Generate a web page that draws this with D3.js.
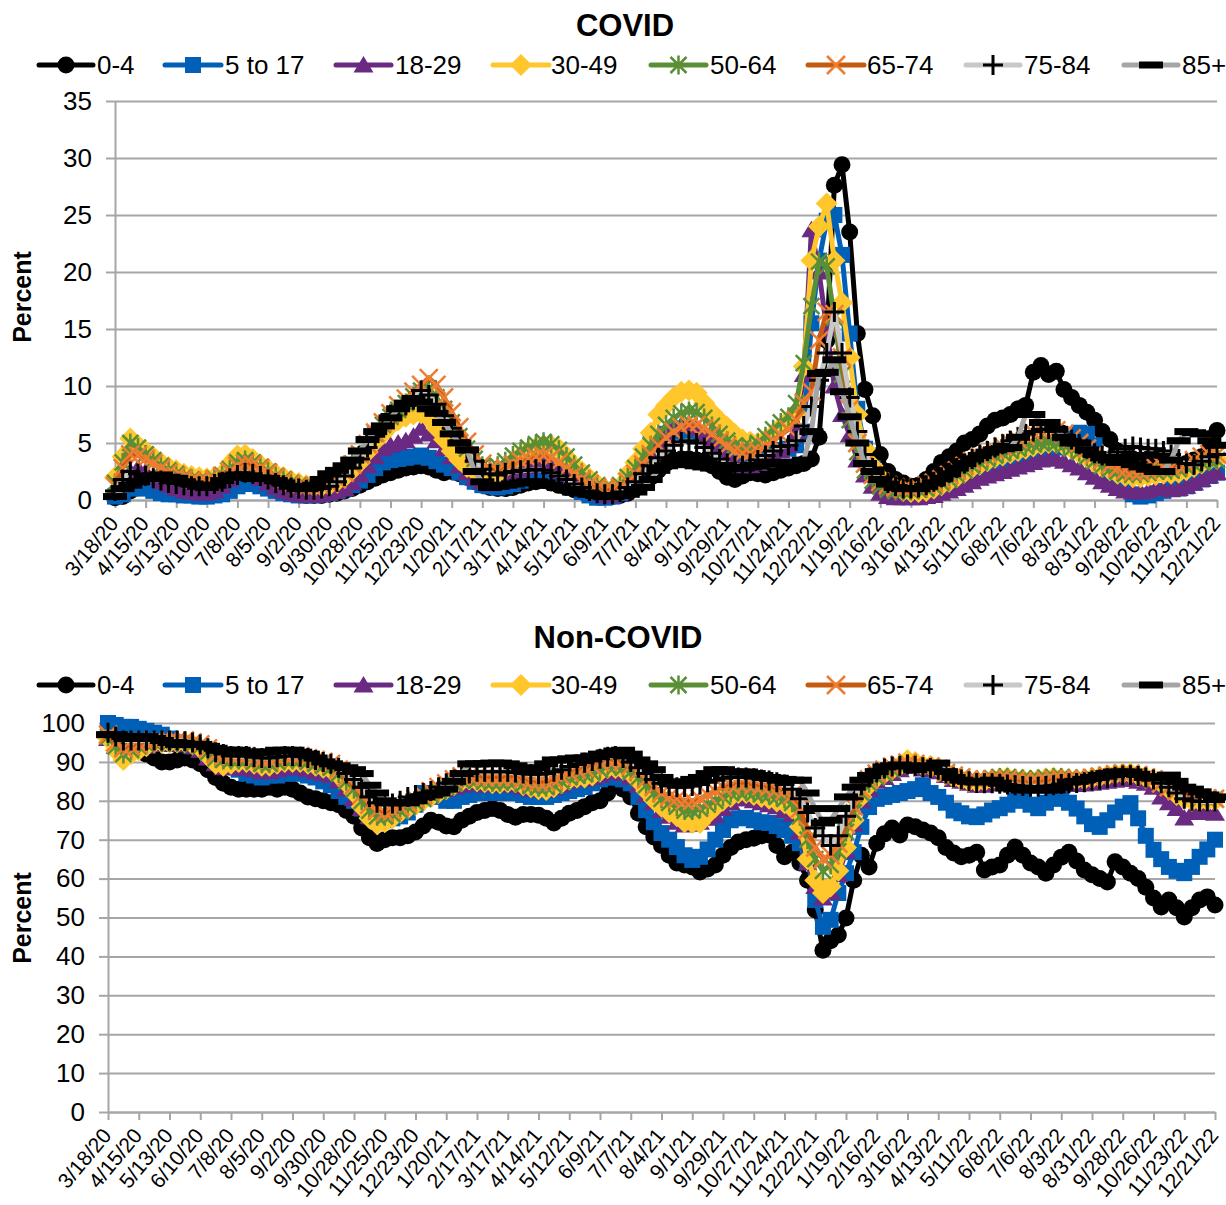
<!DOCTYPE html>
<html><head><meta charset="utf-8">
<script src="https://cdn.jsdelivr.net/npm/d3@7"></script>
<style>body{margin:0;background:#fff} svg text{font-family:"Liberation Sans",Arial,sans-serif;fill:#000}</style>
</head><body>
<svg id="chart" width="1226" height="1205"></svg>
<script>
// ---------------- DATA ----------------
const seriesNames = ["0-4","5 to 17","18-29","30-49","50-64","65-74","75-84","85+"];
const tickLabels = ["3/18/20","4/15/20","5/13/20","6/10/20","7/8/20","8/5/20","9/2/20","9/30/20","10/28/20","11/25/20","12/23/20","1/20/21","2/17/21","3/17/21","4/14/21","5/12/21","6/9/21","7/7/21","8/4/21","9/1/21","9/29/21","10/27/21","11/24/21","12/22/21","1/19/22","2/16/22","3/16/22","4/13/22","5/11/22","6/8/22","7/6/22","8/3/22","8/31/22","9/28/22","10/26/22","11/23/22","12/21/22"];
const covidTicks = [0,5,10,15,20,25,30,35];
const nonCovidTicks = [0,10,20,30,40,50,60,70,80,90,100];

// COVID (%), weekly
const covid0to4 = [0.2,0.3,0.8,1.2,1.3,1.2,0.9,0.7,0.6,0.5,0.5,0.4,0.5,0.6,0.8,
1.0,1.3,1.5,1.5,1.3,1.1,0.9,0.8,0.6,0.5,0.4,0.4,0.4,0.5,0.6,
0.8,1.0,1.3,1.6,1.9,2.2,2.4,2.6,2.8,2.9,3.0,2.9,2.6,2.4,2.5,2.3,2.0,1.6,1.3,1.1,1.0,
1.0,1.1,1.3,1.5,1.6,1.7,1.5,1.3,1.1,0.9,0.7,0.5,0.4,0.3,0.3,0.4,
0.6,1.0,1.5,2.0,2.6,3.2,3.5,3.6,3.6,3.5,3.4,3.0,2.5,2.0,1.8,2.1,2.4,2.3,2.2,2.4,2.6,
2.8,3.0,3.2,3.6,5.5,14.0,27.6,29.4,23.5,14.6,9.7,7.4,4.0,2.5,1.8,1.5,1.2,
1.3,1.8,2.5,3.3,3.8,4.3,5.0,5.3,5.8,6.5,7.0,7.2,7.5,8.0,8.3,11.2,11.8,11.0,11.3,9.7,9.0,8.3,7.7,7.0,6.0,5.3,4.3,3.8,3.6,3.5,3.6,3.8,3.5,3.3,3.0,3.2,3.5,3.8,4.5,6.1];
const covid5to17 = [0.3,0.5,1.0,1.2,1.0,0.8,0.6,0.5,0.5,0.4,0.4,0.3,0.3,0.4,0.5,
0.8,1.2,1.5,1.4,1.2,1.0,0.8,0.6,0.5,0.4,0.4,0.4,0.5,0.6,0.8,
1.0,1.3,1.7,2.2,2.8,3.3,3.5,3.6,3.7,3.8,3.9,3.7,3.4,3.1,2.8,2.4,2.0,1.6,1.3,1.2,1.1,
1.2,1.4,1.7,2.0,2.2,2.3,2.1,1.8,1.5,1.1,0.7,0.4,0.2,0.2,0.3,0.6,
1.5,2.5,4.0,5.0,5.5,5.8,6.0,6.0,5.9,5.8,5.3,4.8,4.2,3.8,3.4,3.2,3.3,3.5,3.8,4.2,4.4,
4.5,4.8,6.0,15.5,21.0,24.5,25.0,21.5,14.6,8.0,4.5,2.8,1.6,1.0,0.6,0.4,0.3,
0.3,0.4,0.5,0.7,0.9,1.1,1.4,1.7,2.0,2.2,2.4,2.6,2.8,3.0,3.3,3.6,3.9,4.2,4.6,5.0,5.4,5.9,5.8,4.8,3.5,2.3,1.5,0.9,0.5,0.3,0.4,0.6,0.8,1.0,1.0,1.2,1.5,1.8,2.1,2.4];
const covid18to29 = [0.8,1.5,2.5,2.8,2.5,2.0,1.6,1.3,1.0,0.8,0.7,0.6,0.6,0.8,1.2,
1.8,2.3,2.5,2.3,1.9,1.5,1.1,0.8,0.6,0.5,0.4,0.4,0.5,0.6,0.8,
1.0,1.5,2.2,3.0,3.8,4.5,4.8,5.0,5.2,5.6,6.3,5.8,5.2,4.5,3.8,3.0,2.4,1.9,1.6,1.4,1.5,
1.8,2.2,2.6,2.9,3.1,3.2,2.9,2.5,2.1,1.7,1.3,0.9,0.6,0.4,0.4,0.7,
1.2,2.0,3.0,4.0,5.0,5.8,6.3,6.6,6.6,6.3,5.8,5.0,4.3,3.7,3.3,3.0,3.0,3.2,3.5,3.9,4.3,
4.8,6.0,11.0,23.7,20.0,15.0,10.0,7.5,5.7,3.5,2.2,1.2,0.6,0.3,0.2,0.2,0.2,
0.2,0.3,0.4,0.6,0.8,1.0,1.3,1.6,1.9,2.1,2.3,2.5,2.7,2.9,3.1,3.3,3.5,3.6,3.6,3.4,3.1,2.8,2.4,2.0,1.6,1.3,1.0,0.8,0.7,0.7,0.8,1.0,1.0,0.9,1.0,1.2,1.5,1.8,2.1,2.4];
const covid30to49 = [2.0,3.8,5.4,4.8,4.3,3.8,3.3,2.9,2.6,2.3,2.1,2.0,1.9,2.0,2.3,
3.2,3.9,4.0,3.6,3.1,2.7,2.3,2.0,1.7,1.5,1.3,1.2,1.2,1.3,1.6,
2.0,2.6,3.3,4.2,5.1,5.8,6.5,7.0,7.3,7.5,7.6,7.2,6.3,5.3,4.3,3.5,2.9,2.5,2.2,2.1,2.3,
2.8,3.4,3.9,4.3,4.6,4.8,4.8,4.5,3.8,3.0,2.5,1.9,1.4,1.0,0.9,1.2,
2.3,3.3,4.5,5.9,7.5,8.3,9.0,9.5,9.6,9.4,8.5,7.7,7.0,6.4,5.8,5.3,5.1,5.0,5.3,5.8,6.4,
7.0,7.6,11.7,21.0,24.0,26.0,21.0,17.3,12.5,7.5,4.5,3.0,2.0,1.3,1.0,0.8,0.7,
0.7,0.8,1.0,1.3,1.6,2.0,2.4,2.8,3.1,3.4,3.7,3.9,4.1,4.3,4.5,4.7,4.9,5.0,5.0,4.8,4.5,4.1,3.7,3.3,2.9,2.6,2.3,2.1,2.0,2.0,2.1,2.2,2.3,2.3,2.4,2.6,2.9,3.2,3.5,3.6];
const covid50to64 = [1.5,3.3,5.0,4.6,4.0,3.5,3.0,2.6,2.3,2.0,1.8,1.7,1.7,1.9,2.2,
2.7,3.3,3.5,3.3,2.9,2.5,2.1,1.8,1.5,1.3,1.2,1.2,1.3,1.5,1.9,
2.5,3.2,4.0,4.9,5.8,6.6,7.3,7.9,8.5,9.1,9.6,9.8,9.0,8.0,6.8,5.6,4.5,3.6,3.0,2.8,3.0,
3.4,3.9,4.3,4.6,4.9,5.1,4.9,4.4,3.8,3.1,2.4,1.8,1.3,1.0,1.0,1.3,
2.0,2.8,3.8,4.8,5.8,6.6,7.2,7.6,7.8,7.7,7.2,6.5,5.8,5.2,4.8,4.6,4.7,5.0,5.6,6.2,6.8,
7.3,8.5,12.0,17.0,20.9,20.5,16.0,11.0,7.0,4.2,2.6,1.7,1.2,0.9,0.8,0.8,0.8,
0.9,1.0,1.2,1.5,1.8,2.2,2.6,3.0,3.3,3.6,3.9,4.1,4.3,4.5,4.7,4.9,5.0,5.1,5.0,4.8,4.5,4.2,3.8,3.4,3.0,2.7,2.5,2.3,2.3,2.3,2.4,2.5,2.6,2.6,2.7,2.9,3.1,3.3,3.5,3.5];
const covid65to74 = [1.2,2.8,4.0,3.9,3.6,3.2,2.8,2.4,2.1,1.9,1.7,1.6,1.6,1.8,2.1,
2.5,3.0,3.2,3.1,2.8,2.4,2.0,1.7,1.4,1.2,1.1,1.1,1.2,1.4,1.8,
2.4,3.1,4.0,4.9,5.9,6.8,7.6,8.3,8.9,9.5,10.1,10.7,10.1,9.0,7.7,6.4,5.1,4.0,3.2,2.7,2.6,
2.8,3.1,3.4,3.6,3.8,3.9,3.7,3.3,2.8,2.3,1.8,1.4,1.1,0.9,0.9,1.1,
1.6,2.3,3.1,4.0,4.8,5.5,6.0,6.4,6.6,6.6,6.3,5.8,5.2,4.7,4.3,4.1,4.1,4.3,4.7,5.2,5.7,
6.2,7.0,8.5,9.5,14.0,16.5,16.3,12.5,8.0,5.0,3.2,2.2,1.6,1.3,1.1,1.0,1.0,
1.1,1.3,1.5,1.8,2.2,2.6,3.0,3.4,3.8,4.1,4.4,4.7,5.0,5.3,5.6,5.9,6.1,6.2,6.1,5.8,5.4,5.0,4.5,4.0,3.5,3.1,2.8,2.6,2.5,2.5,2.6,2.8,2.9,2.9,3.0,3.2,3.5,3.8,4.0,4.0];
const covid75to84 = [0.8,1.8,2.5,2.3,2.1,1.9,1.7,1.5,1.4,1.3,1.2,1.2,1.2,1.4,1.6,
1.9,2.2,2.4,2.3,2.1,1.8,1.5,1.3,1.1,1.0,0.9,0.9,1.0,1.2,1.6,
2.1,2.8,3.6,4.6,5.6,6.6,7.5,7.9,8.3,8.8,9.6,9.2,8.4,7.4,6.3,5.2,4.2,3.4,2.7,2.3,2.2,
2.4,2.5,2.6,2.6,2.7,2.6,2.4,2.1,1.8,1.4,1.1,0.8,0.6,0.5,0.5,0.7,
1.1,1.6,2.3,3.0,3.7,4.3,4.8,5.1,5.2,5.0,4.6,4.1,3.6,3.2,3.0,3.0,3.2,3.5,3.9,4.3,4.7,
4.8,5.2,6.5,8.2,10.5,12.9,16.5,12.9,9.0,6.0,4.0,2.8,2.0,1.5,1.2,1.0,1.0,
1.1,1.3,1.6,2.0,2.4,2.8,3.2,3.6,4.0,4.3,4.6,4.9,5.2,5.5,5.8,6.0,6.2,6.2,6.0,5.7,5.3,4.9,4.5,4.1,3.9,3.9,4.2,4.5,4.7,4.6,4.5,4.5,4.3,4.0,3.6,3.2,3.1,3.4,3.8,4.0];
const covid85plus = [0.3,1.0,1.3,1.6,1.9,2.1,2.2,2.0,1.9,1.6,1.4,1.2,1.1,1.3,1.7,
2.1,2.2,2.0,1.9,1.9,1.9,1.7,1.5,1.2,1.0,1.0,1.3,1.8,2.3,2.6,
3.0,3.5,4.3,5.3,6.0,6.5,7.2,8.0,8.5,8.9,8.6,8.0,7.6,6.8,5.8,5.0,4.4,2.5,1.6,1.1,1.2,
1.3,1.4,1.5,1.6,1.6,1.5,1.3,1.1,0.9,0.7,0.6,0.5,0.4,0.3,0.3,0.4,
0.5,0.7,1.1,1.8,2.6,3.0,3.2,3.2,3.1,3.0,2.9,2.8,2.8,2.8,2.8,2.8,2.9,3.0,3.2,3.3,3.3,
3.2,3.3,3.5,6.0,11.1,11.2,12.3,9.5,7.3,5.0,3.2,2.5,1.8,1.4,1.1,1.0,1.0,
1.0,1.2,1.5,1.9,2.3,2.8,3.2,3.6,3.9,4.2,4.4,4.5,4.6,5.5,7.5,7.5,6.8,6.8,6.2,5.5,5.0,5.0,4.4,4.0,3.7,3.5,3.3,3.3,3.1,2.9,2.7,2.5,2.5,3.5,5.2,6.0,5.9,5.8,5.2,4.8];

// Non-COVID (%), weekly
const non0to4 = [97,96,95,94,93,92,91,90,90,90.5, 91,90.5,89.5,88,86,84.5,83.5,83,83,83,
83,83.5,83,83.5,83,82,81,80.5,80,79.5, 79,77.5,76,73,70.5,69,70,70.5,70.5,71,
72,73.5,75,74.5,73.5,73.3,75,76,77,77.5, 78,77.5,76.5,75.8,76.5,76.5,76.3,75.5,74.3,75.5,
76.8,77.5,78.5,79.5,80,82,84,83,81,76.8, 73.3,70.7,68.5,66,64,63.5,63,61.7,62.5,63.5,
66,68,69.4,70,70.4,71,71.2,68.5,65.6,66.8, 64,59.6,51.9,41.6,44,45.5,49.9,59.6,66,63,
69.1,71.5,73,71.2,73.8,73.3,72.5,71.7,70.5,68, 66.6,65.6,66,66.8,62.2,63,63.5,66,68.1,66,
64,63,61.4,63.5,65.5,66.8,64.5,62.2,61,60, 59.1,64.3,63,61.4,60,57.8,55,52.7,54.5,52.5,
50.1,52.5,54.5,55.3,53.2];
const non5to17 = [100,99.5,99,99,98.5,98,97.5,97,96,95, 94.5,94,93.5,92,91,90,89,88,87,86.5,
86,86.5,86.5,87,87,87,86.5,86,85,84, 82.5,81,80,78,76,75,75,75.5,76,77,
79,82,82,81,80,80,81,81.5,82,82, 82,82,82,82,81.5,81,81,81,81.5,82,
82.5,83,83.5,84.5,85.5,86,86,85.5,84.5,81, 77.6,74.5,71.7,70,68.1,66,64.8,65.6,67.5,70,
72.5,75,75.5,75.6,75,74.5,74.3,73.5,72.5,71, 69.1,64.8,54.5,47.6,49.4,56.3,61.4,66.8,73.3,78.4,
80.5,81,81.5,82,82.5,83,84,82,81,79.5, 77.5,76.8,76,75.8,76.5,77.5,78.1,79,80,80.2,
79,78.1,79.5,80.5,81,79.5,78,76,74,73.3, 75,77,78.5,79.4,75.5,71,67.4,65,63,62,
61.4,63,65.6,67.5,70];
const non18to29 = [96,94,92,93,93.5,94,94.5,94.5,94.5,94.5, 94.5,94,93,91,89.5,88.5,88.5,88.5,88.3,88,
87.5,87.5,88,88.5,88.5,88.5,88,87.5,87,86.5, 85,83,80.5,78,76,75,75.5,76.5,77.5,78.5,
79.5,80.5,81.5,82.5,83,83.5,84,84.5,84.3,84, 84,84,84.2,84,83.5,83,82.8,82.8,83.3,84,
85,85.5,85.5,86,86.5,87.3,87.5,87,86,84, 81.5,79.5,77.5,76,74.5,73.8,74,74.5,75.5,76.3,
78,79.5,80.5,80.5,80,79.5,79,78.5,77.5,76.5, 72,64,58,55,56.5,61,67,74,80,83,
85,86,87,88,89,88.8,88.2,88,87.5,86.5, 85.5,85,84.5,84,84,84.3,84.5,84.5,84.3,84.2,
84,84,84.3,84.5,84.5,84.3,84.2,84.3,84.5,84.8, 85,85.3,85.5,85.5,85,84.5,83.5,81,79.5,78,
75.6,77,77.5,77,76.8];
const non30to49 = [96,93,90.5,92,93,94,95,95,95,95, 95,94.5,93.5,91.5,89.5,89,89.5,90,90,89.5,
89,89,89.5,90,90,90,89.5,89,88.5,88, 86.5,84.5,82,78.5,75.5,74,74.5,75.5,77,78,
79,80,81,82,83,84,85,85.5,85,84.8, 84.5,84.5,84.8,84.8,84,83.5,83,82.8,83.5,84.5,
85.5,86,86,86.5,87.5,88.4,88.4,88,87,85, 82.5,80.2,78.5,77,76,74.5,74.3,74.3,76.5,78.4,
80,81,82,82,81.5,81,80.5,79.8,79.4,78, 73.3,65,59.6,56.3,58,62,68,75,81,84,
86,87,88,89,90.5,90,89,89,88.5,87, 86,85.5,85,84.8,85,85.5,85.8,86,85.5,85.5,
85.3,85.5,85.8,86,85.8,85.5,85.5,85.5,85.8,86.2, 86.5,86.8,87,87,86.5,86,85.5,84.5,83,81.5,
80.5,80,80,80,80];
const non50to64 = [96.5,94,92,93,94,94.5,95,95,95,95, 95,94.5,94,92.5,91,90.5,90.5,90.5,90.5,90,
89.5,89.5,90,90.5,90.5,90.5,90,89.5,89,88.5, 87,85,83,80,77.5,76,76,76.5,77.5,78.5,
79.5,80.5,81.5,82.5,83.5,84.5,85.3,85.5,85.3,85, 84.8,84.8,85,85,84.3,83.8,83.5,83.5,84,85,
86,86.5,86.8,87.2,88,89,89,88.5,87.5,86, 84,82,80.5,79.5,78.5,77.5,77.5,78,79,80,
81,82,82.5,82.5,82,81.8,81.5,81,80.5,79.5, 76,70,65,62,63.5,67,72,77,82,84.5,
86,87,88,88.8,89.5,89.3,88.8,88.5,88,87, 86.3,86,85.5,85.3,85.5,85.8,86,86,85.8,85.6,
85.5,85.6,85.8,86,86,85.8,85.7,85.7,86,86.3, 86.5,86.8,87,87,86.6,86,85.5,84.5,83.5,82.5,
81.5,81,80.5,80.5,80.5];
const non65to74 = [97,95,93.5,94,94.5,95,95.5,95.5,95.5,95.5, 95.5,95,94.5,93.5,92,91.5,91.5,91.5,91.5,91,
90.5,90.5,91,91.5,91.5,91.5,91,90.5,90,89.5, 88,86,84,81.5,79,77.5,77,77.5,78.5,79.5,
80.5,81.5,82.5,83.5,84.5,85.5,86.3,86.5,86.3,86, 86,86,86.2,86.2,85.5,85,84.8,84.8,85.3,86.3,
87.3,88,88.5,89,89.8,90.5,90.5,90,89,87.5, 85.5,83.5,82,81,80.5,80,80,80.5,81.5,82.5,
83.5,84,84.5,84.5,84,83.8,83.5,83,82.5,81.5, 78,72.5,68,65,66,69,74,78.5,83,85.5,
87,88,88.8,89.3,89.8,89.5,89,88.8,88.2,87.2, 86.5,86,85.5,85.2,85.3,85.5,85.5,85.5,85.2,85,
84.8,85,85.2,85.5,85.6,85.5,85.5,85.6,85.9,86.2, 86.5,86.8,87,87,86.6,86,85.5,84.5,83.5,82.5,
81.5,81,80.8,80.6,80.5];
const non75to84 = [97.5,96.5,95.5,95.5,95.5,95.5,95.5,95.5,95.5,95.5, 95.3,95,94.5,93.5,92.5,92,91.5,91.5,91.5,91.2,
91,91,91.2,91.5,91.5,91.3,91,90.5,90,89.5, 88.5,87,85.5,83.5,81,79.5,79,79.3,80,81,
81.5,82,82.5,83.5,84.5,85.5,86.5,87,87.5,87.5, 87.5,87.5,87.5,87.3,87,86.8,86.8,87,87.5,88,
88.8,89.3,89.8,90.2,90.8,91.3,91.5,91,90,88.5, 87,85.5,84.5,83.8,83.5,83.5,83.8,84.2,84.8,85.3,
85.8,86,86,86,85.8,85.5,85.2,84.8,84.2,83, 80.5,77,73,71,68.5,71,76,80.5,84,86,
87.3,88.3,88.8,89,89.3,89,88.6,88.4,88,87, 86,85.5,85,84.6,84.5,84.5,84.4,84.2,84,83.8,
83.6,83.6,83.8,84,84.3,84.5,84.6,84.8,85.2,85.5, 85.8,86.2,86.5,86.6,86.4,86,85.5,84.5,83.5,82,
80.5,80,79.8,79.8,79.8];
const non85plus = [97,97,96.5,96.5,96.5,96.5,96,95.5,95,94.5, 94.5,94.5,94.5,94,93.5,93,93,93,92.5,92.5,
92.5,92.5,93,93,93,92.5,92,91,90,89.5, 89,88.5,88,87,84,82,80,79.5,79.5,79.5,
80,81,81.5,82,83,85,87,89.5,89.5,89.5, 89.7,89.7,89.5,89,88,87.5,88.5,89.5,90.5,90.5,
90.8,91,91,91.5,92,92.3,92.8,93,92,90.5, 89.5,88,86,84.8,84.8,84.8,85.5,86,87,88,
88,87.4,87.4,87.4,87,86.5,86,85.8,85.5,85.3, 85.3,82,78,74.3,75,78,81,83.5,85.3,86.5,
87.5,88.7,89,89.2,89,88,88.5,89,89.7,87.5, 86,85.3,85,84.8,85,85.3,84.5,83.3,83,82.8,
82.8,82.8,82.8,82.8,83.5,84.8,85,85.5,86,86.5, 87,87.4,87.4,87.4,86.8,86,85.8,86.2,86.6,85,
83.5,83,82.3,81.5,81];

// ---------------- CATEGORIES ----------------
const weekDates = d3.range(145).map(i => d3.timeDay.offset(new Date(2020, 2, 18), 7 * i));
const categories = weekDates.map(d => `${d.getMonth() + 1}/${d.getDate()}/${String(d.getFullYear()).slice(2)}`);

// ---------------- STYLES ----------------
const styles = [
  {line: "#000000", marker: "circle",   color: "#000000"},
  {line: "#0060B8", marker: "square",   color: "#0060B8"},
  {line: "#6A2A82", marker: "triangle", color: "#6A2A82"},
  {line: "#FFC72C", marker: "diamond",  color: "#FFC72C"},
  {line: "#5A8F36", marker: "star",     color: "#5A8F36"},
  {line: "#C55A11", marker: "x",        color: "#ED7D31"},
  {line: "#C8C8C8", marker: "plus",     color: "#000000"},
  {line: "#A5A5A5", marker: "dash",     color: "#000000"}
];
const legendPos = [[39,93,97],[165,221,225],[336,391,395],[493,549,551],[651,706,710],[808,864,867],[966,1020,1024],[1124,1178,1182]];

function drawMarker(g, st) {
  const c = st.color;
  switch (st.marker) {
    case "circle": g.append("circle").attr("r", 8.5).attr("fill", c); break;
    case "square": g.append("rect").attr("x", -8).attr("y", -8).attr("width", 16).attr("height", 16).attr("fill", c); break;
    case "triangle": g.append("path").attr("d", "M0,-9L10,7.5L-10,7.5Z").attr("fill", c); break;
    case "diamond": g.append("path").attr("d", "M0,-11L11,0L0,11L-11,0Z").attr("fill", c); break;
    case "star": g.append("path").attr("d", "M0,-9.5V9.5M-8,-8L8,8M-8,8L8,-8").attr("stroke", c).attr("stroke-width", 2.5).attr("fill", "none"); break;
    case "x": g.append("path").attr("d", "M-9,-9L9,9M-9,9L9,-9").attr("stroke", c).attr("stroke-width", 2.5).attr("fill", "none"); break;
    case "plus": g.append("path").attr("d", "M0,-10V10M-10,0H10").attr("stroke", c).attr("stroke-width", 3).attr("fill", "none"); break;
    case "dash": g.append("rect").attr("x", -12).attr("y", -3.5).attr("width", 24).attr("height", 7).attr("fill", c); break;
  }
}

const svg = d3.select("#chart");
const GRID = "#A6A6A6";

function panel(cfg) {
  const g = svg.append("g");
  const x = d3.scalePoint().domain(categories).range([cfg.left, cfg.right]).padding(0);
  const y = d3.scaleLinear().domain([0, cfg.yMax]).range([cfg.bottom, cfg.top]);

  const grid = g.append("g").attr("transform", `translate(${cfg.left},0)`)
    .call(d3.axisLeft(y).tickValues(cfg.ticks).tickSize(-(cfg.right - cfg.left)).tickFormat(""));
  grid.select(".domain").remove();
  grid.selectAll("line").attr("stroke", GRID).attr("stroke-width", 2);

  const ya = g.append("g").attr("transform", `translate(${cfg.left},0)`)
    .call(d3.axisLeft(y).tickValues(cfg.ticks).tickSize(9).tickSizeOuter(0).tickPadding(14));
  ya.select(".domain").attr("stroke", GRID).attr("stroke-width", 2);
  ya.selectAll("line").attr("stroke", GRID).attr("stroke-width", 2);
  ya.selectAll("text").style("font-size", "26px").style("font-family", '"Liberation Sans",Arial,sans-serif');

  const xa = g.append("g").attr("transform", `translate(0,${cfg.bottom})`)
    .call(d3.axisBottom(x).tickValues(tickLabels).tickSize(8).tickSizeOuter(0));
  xa.select(".domain").attr("stroke", GRID).attr("stroke-width", 2);
  xa.selectAll("line").attr("stroke", GRID).attr("stroke-width", 2);
  xa.selectAll("text").attr("y", 0).attr("x", 0).attr("dy", 0)
    .attr("transform", "translate(4,24) rotate(-50)")
    .style("text-anchor", "end").style("font-size", "21px")
    .style("font-family", '"Liberation Sans",Arial,sans-serif');

  const line = d3.line().x((d, i) => x(categories[i])).y(d => y(d));
  cfg.data.forEach((vals, si) => {
    const st = styles[si];
    const sg = g.append("g");
    sg.append("path").datum(vals).attr("d", line).attr("fill", "none")
      .attr("stroke", st.line).attr("stroke-width", 5).attr("stroke-linejoin", "round");
    sg.selectAll("g.m").data(vals).join("g").attr("class", "m")
      .attr("transform", (d, i) => `translate(${x(categories[i])},${y(d)})`)
      .each(function () { drawMarker(d3.select(this), st); });
  });

  g.append("text").attr("x", cfg.titleX).attr("y", cfg.titleY).attr("text-anchor", "middle")
    .style("font-size", "31px").style("font-weight", "bold").text(cfg.title);

  seriesNames.forEach((name, si) => {
    const [x1, x2, tx] = legendPos[si];
    const lg = g.append("g");
    lg.append("line").attr("x1", x1).attr("x2", x2).attr("y1", cfg.legendY).attr("y2", cfg.legendY)
      .attr("stroke", styles[si].line).attr("stroke-width", 5).attr("stroke-linecap", "round");
    drawMarker(lg.append("g").attr("transform", `translate(${(x1 + x2) / 2},${cfg.legendY})`), styles[si]);
    lg.append("text").attr("x", tx).attr("y", cfg.legendY + 9).style("font-size", "26px").text(name);
  });

  g.append("text").attr("transform", `translate(31,${cfg.labelY}) rotate(-90)`).attr("text-anchor", "middle")
    .style("font-size", "25px").style("font-weight", "bold").text("Percent");
}

panel({title: "COVID", titleX: 625, titleY: 36, legendY: 65, left: 115, right: 1217, top: 101, bottom: 500,
  yMax: 35, ticks: covidTicks, labelY: 297,
  data: [covid0to4, covid5to17, covid18to29, covid30to49, covid50to64, covid65to74, covid75to84, covid85plus]});
panel({title: "Non-COVID", titleX: 618, titleY: 648, legendY: 685, left: 108, right: 1215, top: 723, bottom: 1112,
  yMax: 100, ticks: nonCovidTicks, labelY: 918,
  data: [non0to4, non5to17, non18to29, non30to49, non50to64, non65to74, non75to84, non85plus]});
</script>
</body></html>
